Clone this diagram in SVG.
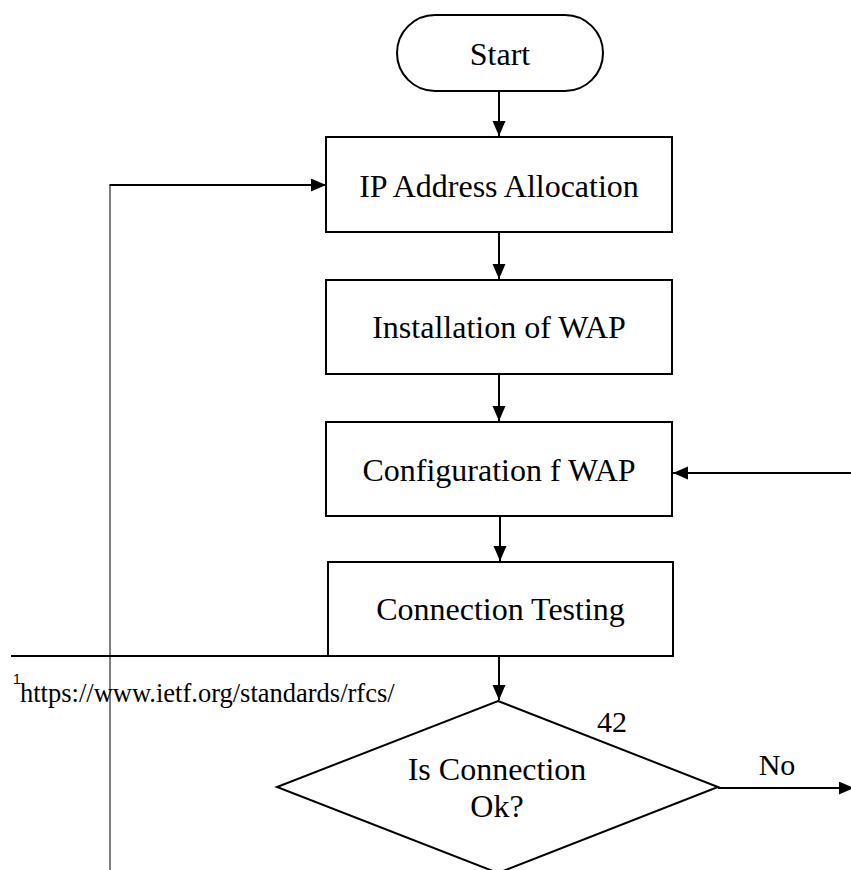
<svg xmlns="http://www.w3.org/2000/svg" width="851" height="870" viewBox="0 0 851 870">
<style>
.shape{fill:#fff;stroke:#000;stroke-width:2}
.edge{stroke:#000;stroke-width:2;fill:none}
.lbl{font-family:"Liberation Serif","Times New Roman",serif;font-size:32px;text-anchor:middle;fill:#000}
.elbl{font-family:"Liberation Serif","Times New Roman",serif;font-size:30px;text-anchor:middle;fill:#000}
</style>
<defs>
<marker id="ah" markerUnits="userSpaceOnUse" markerWidth="16" markerHeight="14" refX="15" refY="6.5" orient="auto">
<path d="M0,0 L15,6.5 L0,13 z" fill="#000"/>
</marker>
</defs>
<rect width="851" height="870" fill="#fff"/>
<g id="connectors">
<line class="edge" x1="499" y1="91" x2="499" y2="136" marker-end="url(#ah)"/>
<line class="edge" x1="499" y1="232" x2="499" y2="279" marker-end="url(#ah)"/>
<line class="edge" x1="499" y1="374" x2="499" y2="421" marker-end="url(#ah)"/>
<line class="edge" x1="500" y1="516" x2="500" y2="561" marker-end="url(#ah)"/>
<line class="edge" x1="499" y1="656" x2="499" y2="700" marker-end="url(#ah)"/>
<line x1="110" y1="870" x2="110" y2="185" stroke="#000" stroke-width="1"/>
<line class="edge" x1="109.5" y1="185" x2="326" y2="185" marker-end="url(#ah)"/>
<line class="edge" x1="851" y1="473" x2="673" y2="473" marker-end="url(#ah)"/>
<line class="edge" x1="718" y1="788" x2="854" y2="788" marker-end="url(#ah)"/>
<text class="elbl" x="612" y="732">42</text>
<text class="elbl" x="777" y="775">No</text>
</g>
<g id="footnote">
<line x1="11" y1="656" x2="328" y2="656" stroke="#000" stroke-width="2"/>
<text x="13" y="684" font-family="Liberation Sans, Arial, sans-serif" font-size="14">1</text>
<text x="20" y="702" font-family="Liberation Serif, Times New Roman, serif" font-size="26.5">https://www.ietf.org/standards/rfcs/</text>
</g>
<g id="start">
<rect class="shape" x="397" y="15" width="206" height="76" rx="38" ry="38"/>
<text class="lbl" x="500" y="65">Start</text>
</g>
<g id="ip">
<rect class="shape" x="326" y="137" width="346" height="95"/>
<text class="lbl" x="499" y="197">IP Address Allocation</text>
</g>
<g id="install">
<rect class="shape" x="326" y="280" width="346" height="94"/>
<text class="lbl" x="499" y="338">Installation of WAP</text>
</g>
<g id="config">
<rect class="shape" x="326" y="422" width="346" height="94"/>
<text class="lbl" x="499" y="481">Configuration f WAP</text>
</g>
<g id="testing">
<rect class="shape" x="328" y="562" width="345" height="94"/>
<text class="lbl" x="500.5" y="620">Connection Testing</text>
</g>
<g id="decision">
<polygon class="shape" points="498,701 718,787 498,873 277,787"/>
<text class="lbl" x="497" y="780">Is Connection</text>
<text class="lbl" x="497" y="817">Ok?</text>
</g>
</svg>
